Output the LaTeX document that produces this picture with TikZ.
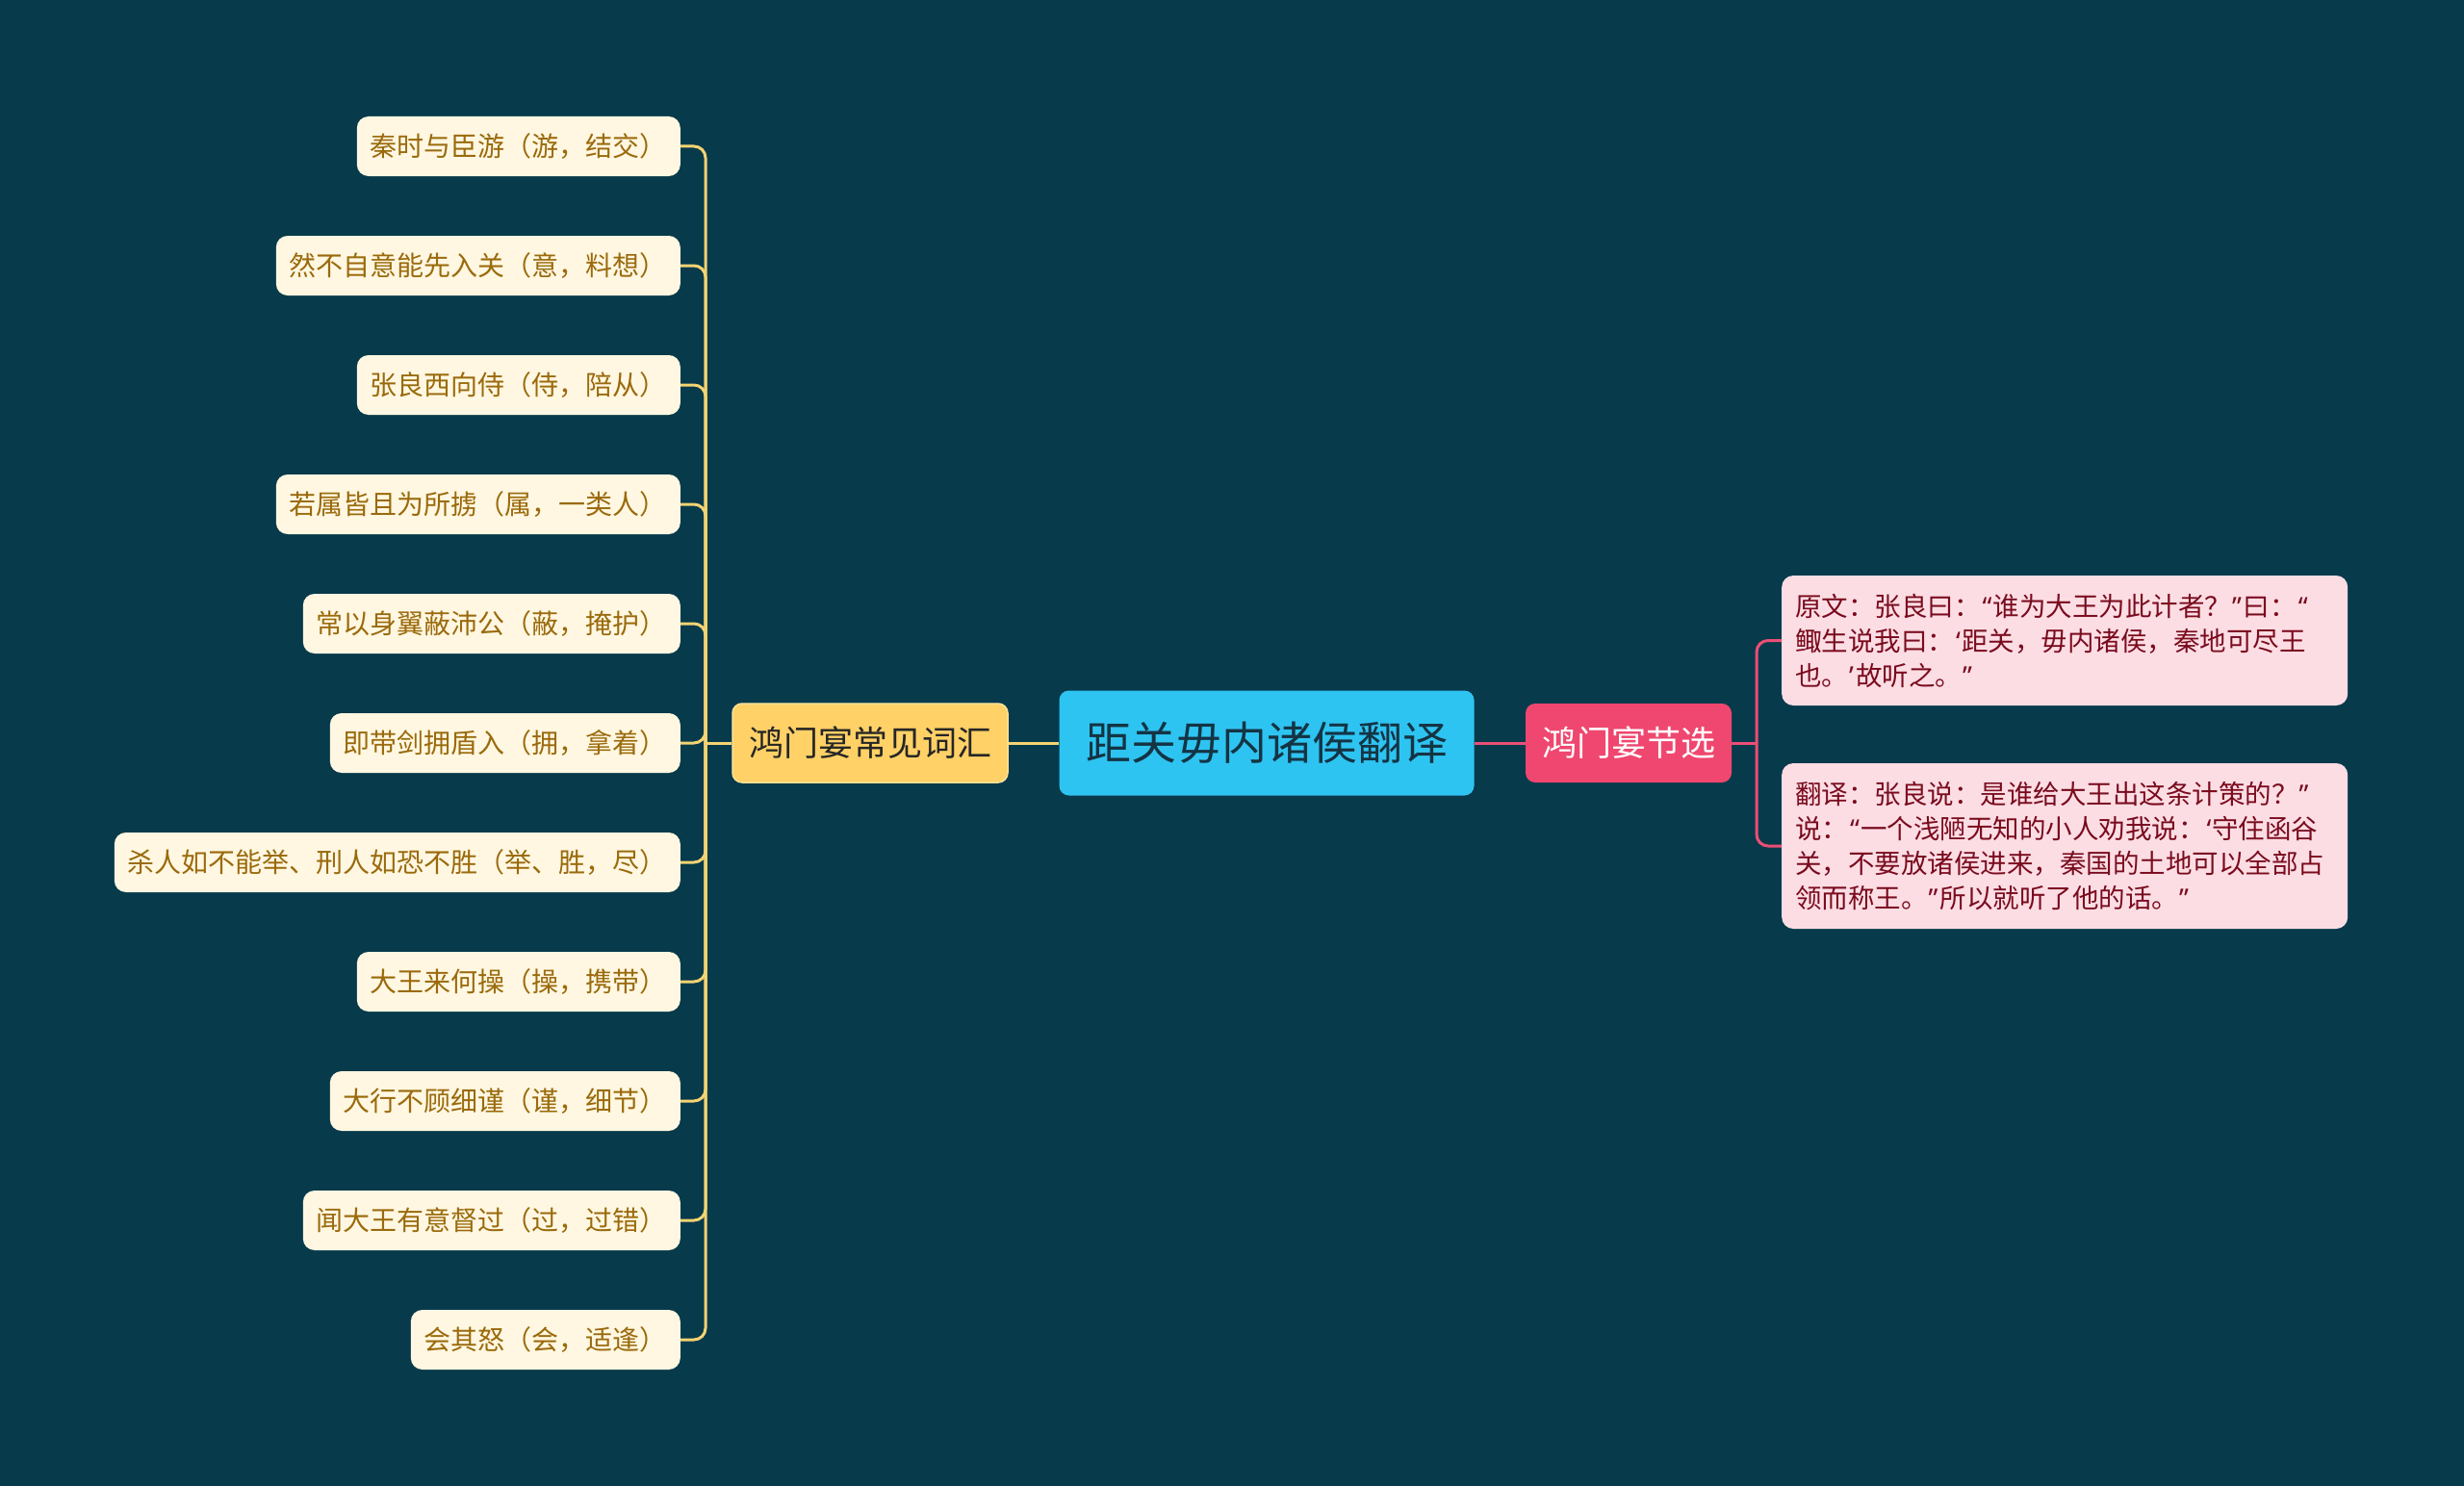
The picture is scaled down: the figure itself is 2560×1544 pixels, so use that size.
\documentclass[tikz,border=0pt]{standalone}
\usepackage{fontspec}
\setmainfont{Noto Sans CJK SC}
\newfontfamily\qfont{Noto Sans}
\newcommand\qdo{{\qfont\kern2pt “\kern1pt}}
\newcommand\qdc{{\qfont\kern1pt ”\kern2pt}}
\newcommand\qso{{\qfont\kern2pt ‘\kern1pt}}
\newcommand\qsc{{\qfont\kern1pt ’\kern2pt}}
\definecolor{bgc}{HTML}{073A4B}
\definecolor{leafbg}{HTML}{FFF7E1}
\definecolor{leaftext}{HTML}{9A6A0C}
\definecolor{yline}{HTML}{F5D372}
\definecolor{ybox}{HTML}{FFD166}
\definecolor{ybord}{HTML}{FFE39A}
\definecolor{cbox}{HTML}{2EC4F1}
\definecolor{ctext}{HTML}{143444}
\definecolor{pbox}{HTML}{EF476F}
\definecolor{pline}{HTML}{EC4E75}
\definecolor{rbox}{HTML}{FCDDE4}
\definecolor{rtext}{HTML}{7A0B1E}
\tikzset{
  leaf/.style={fill=leafbg, text=leaftext, rounded corners=12, inner xsep=14, inner ysep=0,
    minimum height=62, font=\fontsize{28}{34}\selectfont, anchor=east},
  ylink/.style={draw=yline, line width=3, rounded corners=12},
  plink/.style={draw=pline, line width=3, rounded corners=12},
  rnode/.style={fill=rbox, text=rtext, rounded corners=12, inner xsep=14, inner ysep=0,
    text width=560, align=left, anchor=west, font=\fontsize{27.5}{36}\selectfont},
}
\begin{document}
\begin{tikzpicture}[x=1pt, y=-1pt]
\useasboundingbox (0,0) rectangle (2560,1544);
\fill[bgc] (0,0) rectangle (2560,1544);

% central & main branches
\node[fill=cbox, text=ctext, rounded corners=10, minimum width=431, minimum height=109, inner sep=0,
  font=\fontsize{47}{54}\selectfont] (C) at (1316,772) {距关毋内诸侯翻译};
\node[fill=ybox, draw=ybord, line width=1.5, text=black!85, rounded corners=10, minimum width=286, minimum height=82, inner sep=0,
  font=\fontsize{36}{42}\selectfont] (W) at (904,772) {鸿门宴常见词汇};
\node[fill=pbox, text=white, rounded corners=10, minimum width=214, minimum height=82, inner sep=0,
  font=\fontsize{36}{42}\selectfont] (J) at (1692,772) {鸿门宴节选};

% leaves
\node[leaf] (L1) at (707,152) {秦时与臣游（游，结交）};
\node[leaf] (L2) at (707,276) {然不自意能先入关（意，料想）};
\node[leaf] (L3) at (707,400) {张良西向侍（侍，陪从）};
\node[leaf] (L4) at (707,524) {若属皆且为所掳（属，一类人）};
\node[leaf] (L5) at (707,648) {常以身翼蔽沛公（蔽，掩护）};
\node[leaf] (L6) at (707,772) {即带剑拥盾入（拥，拿着）};
\node[leaf] (L7) at (707,896) {杀人如不能举、刑人如恐不胜（举、胜，尽）};
\node[leaf] (L8) at (707,1020) {大王来何操（操，携带）};
\node[leaf] (L9) at (707,1144) {大行不顾细谨（谨，细节）};
\node[leaf] (L10) at (707,1268) {闻大王有意督过（过，过错）};
\node[leaf] (L11) at (707,1392) {会其怒（会，适逢）};

% right boxes
\node[rnode, minimum height=135] (R1) at (1851,665.5) {原文：张良曰：\qdo 谁为大王为此计者？\qdc 曰：\qdo\\鲰生说我曰：\qso 距关，毋内诸侯，秦地可尽王\\也。\qsc 故听之。\qdc};
\node[rnode, minimum height=172] (R2) at (1851,879) {翻译：张良说：是谁给大王出这条计策的？\qdc\\说：\qdo 一个浅陋无知的小人劝我说：\qso 守住函谷\\关，不要放诸侯进来，秦国的土地可以全部占\\领而称王。\qdc 所以就听了他的话。\qdc};

% connectors
\coordinate (tk) at (733,772);
\coordinate (rt) at (1825,772);
\draw[ylink] (C.west) -- (W.east);
\draw[ylink] (W.west) -- (tk);
\foreach \i in {1,...,11} {\draw[ylink] (L\i.east) -| (tk);}
\draw[plink] (C.east) -- (J.west);
\draw[plink] (J.east) -- (rt);
\draw[plink] (R1.west) -| (rt);
\draw[plink] (R2.west) -| (rt);
\end{tikzpicture}
\end{document}
